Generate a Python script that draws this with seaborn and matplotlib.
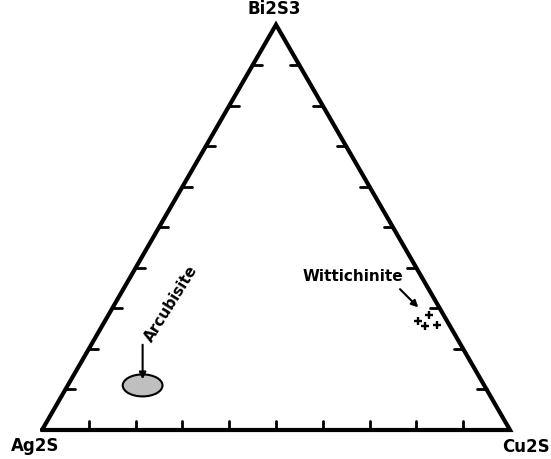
import matplotlib
matplotlib.use("Agg")
import numpy as np
import pandas as pd
import matplotlib.pyplot as plt
from matplotlib.patches import Ellipse
import seaborn as sns

sns.set_style('white')
plt.rcParams['font.family'] = ['DejaVu Sans']
plt.rcParams['text.color'] = 'black'

# End members of the ternary (Ag2S at left, Cu2S at right, Bi2S3 at top)
apices = ['Ag2S', 'Cu2S', 'Bi2S3']

# Wittichinite analyses (mole fractions Ag2S, Cu2S, Bi2S3)
witt_ag = [0.062, 0.031, 0.053, 0.026]
witt_cu = [0.668, 0.685, 0.690, 0.715]
witt_bi = [0.270, 0.284, 0.257, 0.259]

# Arcubisite field (centre composition)
arc_ag, arc_cu, arc_bi = 0.73, 0.16, 0.11

tick_fracs = np.arange(0.1, 1.0, 0.1)

H = np.sqrt(3) / 2


def tern(cu, bi):
    # cartesian position in a unit triangle
    cu = np.asarray(cu)
    bi = np.asarray(bi)
    return cu + bi / 2, bi * H


fig = plt.figure(figsize=(5.51, 4.59), dpi=100)
ax = fig.add_axes([0, 0, 1, 1])
ax.set_xlim(-42 / 468, 509 / 468)
ax.set_ylim(-29 / 468, 430 / 468)
ax.set_aspect('equal')
ax.axis('off')

# triangle outline
vx, vy = tern([0, 1, 0, 0], [0, 0, 1, 0])
ax.plot(vx, vy, color='black', lw=3, solid_joinstyle='miter', zorder=3)

# ticks along each edge, pointing into the triangle
tl = 0.02
for f in tick_fracs:
    bx, by = tern(f, 0)
    ax.plot([bx, bx], [by, by + tl], color='black', lw=2)
    lx, ly = tern(0, f)
    ax.plot([lx, lx + tl], [ly, ly], color='black', lw=2)
    rx, ry = tern(1 - f, f)
    ax.plot([rx, rx - tl], [ry, ry], color='black', lw=2)

# apex labels
lab_kw = dict(fontsize=12, fontweight='bold', ha='center', va='center',
              textcoords='offset points')
ax.annotate(apices[0], tern(0, 0), xytext=(-5, -11.5), **lab_kw)
ax.annotate(apices[1], tern(1, 0), xytext=(11.5, -12), **lab_kw)
ax.annotate(apices[2], tern(0, 1), xytext=(-1.5, 11), **lab_kw)

# wittichinite points
wx, wy = tern(witt_cu, witt_bi)
df = pd.DataFrame({'x': wx, 'y': wy})
sns.scatterplot(data=df, x='x', y='y', marker='+', s=40, color='black',
                linewidth=1.7, ax=ax, zorder=4)
ax.annotate('', xy=(wx.min() + 0.001, wy.max() + 0.016),
            xytext=(wx.min() - 0.038, wy.max() + 0.055),
            arrowprops=dict(arrowstyle='-|>', color='black', lw=1.5,
                            mutation_scale=10, shrinkA=0, shrinkB=0))
ax.text(wx.min() - 0.139, wy.max() + 0.083, 'Wittichinite', fontsize=11,
        fontweight='bold', ha='center', va='center')

# arcubisite field
ax_, ay_ = tern(arc_cu, arc_bi)
ax.add_patch(Ellipse((ax_, ay_), 0.085, 0.047, facecolor='#bfbfbf',
                     edgecolor='black', lw=1.5, zorder=4))
ax.annotate('', xy=(ax_, ay_ + 0.013), xytext=(ax_, ay_ + 0.087),
            arrowprops=dict(arrowstyle='-|>', color='black', lw=1.5,
                            mutation_scale=10, shrinkA=0, shrinkB=0),
            zorder=5)
ax.text(ax_ + 0.06, ay_ + 0.175, 'Arcubisite', fontsize=11, fontweight='bold',
        rotation=58, ha='center', va='center', rotation_mode='anchor')

fig.savefig('out.png', dpi=100)
